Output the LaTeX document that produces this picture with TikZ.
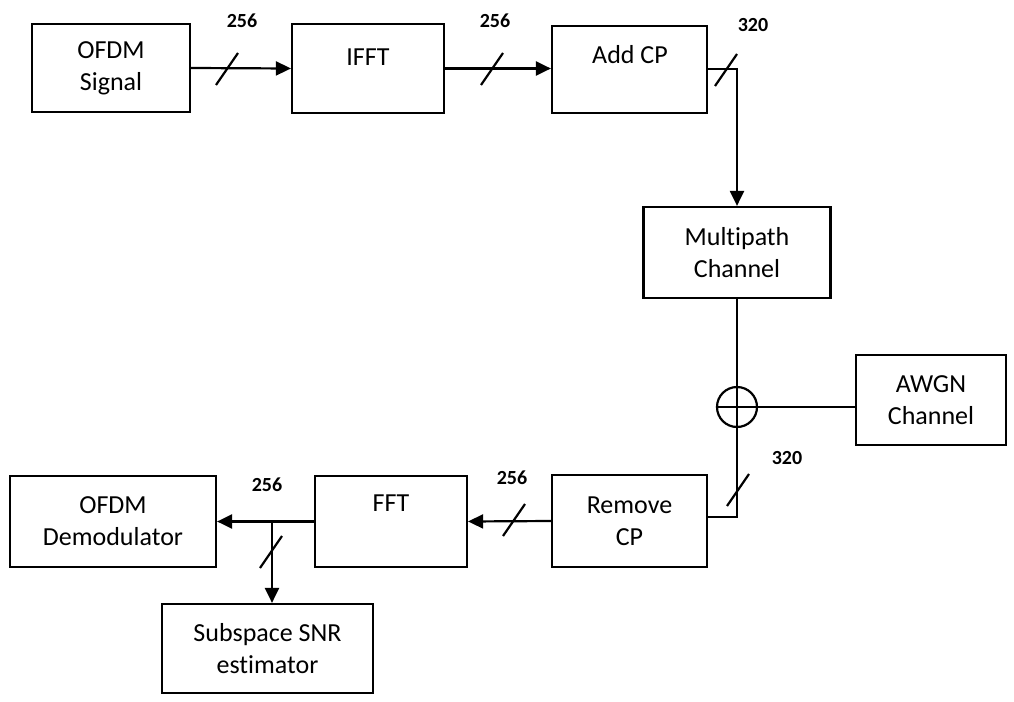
\documentclass[tikz,border=0pt]{standalone}
\usepackage{fontspec}
\setmainfont{Carlito}[Ligatures=NoCommon]
\usetikzlibrary{arrows.meta,calc}
\begin{document}
\begin{tikzpicture}[x=1pt,y=-1pt,
  box/.style={draw,line width=2.2pt,rectangle,inner sep=0pt,align=center,font=\fontsize{26}{32}\selectfont},
  txt/.style={inner sep=0pt,align=center,font=\fontsize{26}{32}\selectfont},
  num/.style={inner sep=0pt,font=\fontsize{20}{22}\selectfont\bfseries},
  conn/.style={line width=2.2pt},
  arr/.style={line width=2.2pt,-{Triangle[length=15pt,width=14pt]}},
  slashmark/.style={line width=2.2pt}]
\useasboundingbox (0,0) rectangle (1014,701);
% boxes
\node[box,minimum width=158pt,minimum height=88pt] (sig) at (111,68) {OFDM\\Signal};
\node[box,minimum width=152pt,minimum height=89pt] (ifft) at (368,68.5) {};
\node[txt] (iffttxt) at (368,57) {IFFT};
\node[box,minimum width=155pt,minimum height=87pt] (acp) at (629.5,69.5) {};
\node[txt] (acptxt) at (630,55) {Add CP};
\node[box,minimum width=187pt,minimum height=91pt] (mp) at (737,252.5) {Multipath\\Channel};
\node[box,minimum width=150pt,minimum height=90pt] (awgn) at (931,400) {AWGN\\Channel};
\node[draw,circle,line width=2.2pt,minimum size=40pt,inner sep=0pt] (sum) at (737,407) {};
\draw[line width=2.2pt] (sum.north) -- (sum.south) (sum.west) -- (sum.east);
\node[box,minimum width=155pt,minimum height=92pt] (rcp) at (629.5,521) {Remove\\CP};
\node[box,minimum width=152pt,minimum height=91pt] (fft) at (391,521.5) {};
\node[txt] (ffttxt) at (391,503) {FFT};
\node[box,minimum width=206pt,minimum height=91pt] (dem) at (113,521.5) {OFDM\\Demodulator};
\node[box,minimum width=211pt,minimum height=89pt] (sub) at (267.5,648.5) {Subspace SNR\\estimator};
% labels
\node[num] (l1) at (242,21) {256};
\node[num] (l2) at (495,21) {256};
\node[num] (l3) at (753,25) {320};
\node[num] (l4) at (787,458) {320};
\node[num] (l5) at (512,478) {256};
\node[num] (l6) at (267,485) {256};
% connectors
\draw[arr] (sig.east) -- (ifft.west);
\draw[arr] (ifft.east) -- (acp.west |- ifft.east);
\coordinate (c1) at (737,69);
\draw[arr] (acp.east |- c1) -- (c1) -- (mp.north);
\draw[conn] (mp.south) -- (sum.north);
\draw[conn] (awgn.west |- sum.east) -- (sum.east);
\coordinate (c2) at (737,517);
\draw[conn] (sum.south) -- (c2) -- (rcp.east |- c2);
\draw[arr] (rcp.west) -- (fft.east);
\draw[arr] (fft.west) -- (dem.east);
\coordinate (br) at (272,521.5);
\draw[arr] (br) -- (br |- sub.north);
% slash marks
\coordinate (s1) at (227,69);
\coordinate (s2) at (492,69);
\coordinate (s3) at (726,70);
\coordinate (s4) at (738,490);
\coordinate (s5) at (514,520);
\coordinate (s6) at (271,552);
\draw[slashmark] ($(s1)+(-11,16)$) -- ($(s1)+(11,-16)$);
\draw[slashmark] ($(s2)+(-11,16)$) -- ($(s2)+(11,-16)$);
\draw[slashmark] ($(s3)+(-11,16)$) -- ($(s3)+(11,-16)$);
\draw[slashmark] ($(s4)+(-11,16)$) -- ($(s4)+(11,-16)$);
\draw[slashmark] ($(s5)+(-11,16)$) -- ($(s5)+(11,-16)$);
\draw[slashmark] ($(s6)+(-11,16)$) -- ($(s6)+(11,-16)$);
\end{tikzpicture}
\end{document}
